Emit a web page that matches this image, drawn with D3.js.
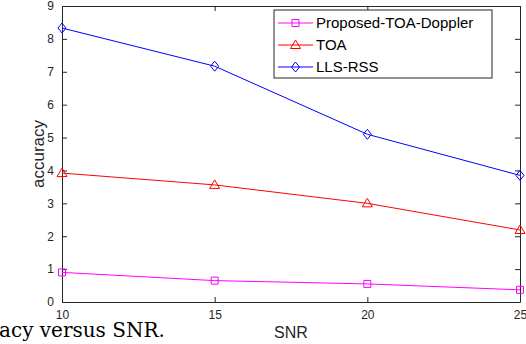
<!DOCTYPE html>
<html>
<head>
<meta charset="utf-8">
<script src="https://cdn.jsdelivr.net/npm/d3@7"></script>
<style>
  body { margin: 0; background: #fff; }
  svg { display: block; }
  .axis text { font-family: "Liberation Sans", Arial, sans-serif; font-size: 12px; fill: #262626; }
  .axis path, .axis line { stroke: #262626; }
</style>
</head>
<body>
<svg width="526" height="344"></svg>
<script>
// data
var snr = [10, 15, 20, 25];
var proposed = [0.9, 0.65, 0.55, 0.37];
var toa = [3.92, 3.56, 3.0, 2.19];
var llsRss = [8.33, 7.17, 5.1, 3.85];
var xTicks = [10, 15, 20, 25];
var yTicks = [0, 1, 2, 3, 4, 5, 6, 7, 8, 9];

var series = [
  {name: "Proposed-TOA-Doppler", values: proposed, color: "#ff00ff", marker: "square"},
  {name: "TOA", values: toa, color: "#ff0000", marker: "triangle"},
  {name: "LLS-RSS", values: llsRss, color: "#0000ff", marker: "diamond"}
];

var svg = d3.select("svg");
var margin = {top: 6, right: 6, bottom: 42, left: 62};
var width = 526 - margin.left - margin.right;
var height = 344 - margin.top - margin.bottom;

var x = d3.scaleLinear().domain([10, 25]).range([0, width]);
var y = d3.scaleLinear().domain([0, 9]).range([height, 0]);

var graph = svg.append("g")
  .attr("transform", "translate(" + margin.left + "," + margin.top + ")");

// box + ticks on all sides (matlab style, ticks inside)
graph.append("g").attr("class", "axis")
  .attr("transform", "translate(0," + height + ")")
  .call(d3.axisBottom(x).tickValues(xTicks).tickSizeInner(-5).tickSizeOuter(0).tickPadding(8));
graph.append("g").attr("class", "axis")
  .call(d3.axisTop(x).tickValues(xTicks).tickSizeInner(-5).tickSizeOuter(0).tickFormat(""));
graph.append("g").attr("class", "axis")
  .call(d3.axisLeft(y).tickValues(yTicks).tickSizeInner(-5).tickSizeOuter(0).tickPadding(8));
graph.append("g").attr("class", "axis")
  .attr("transform", "translate(" + width + ",0)")
  .call(d3.axisRight(y).tickValues(yTicks).tickSizeInner(-5).tickSizeOuter(0).tickFormat(""));

function markerPath(type) {
  if (type === "square") return "M-3.5,-3.5H3.5V3.5H-3.5Z";
  if (type === "triangle") return "M0,-5L5,3.5H-5Z";
  return "M0,-5L4,0L0,5L-4,0Z";
}

var line = d3.line()
  .x(function(d, i) { return x(snr[i]); })
  .y(function(d) { return y(d); });

series.forEach(function(s) {
  graph.append("path")
    .attr("d", line(s.values))
    .attr("fill", "none")
    .attr("stroke", s.color)
    .attr("stroke-width", 1);

  graph.selectAll(".m-" + s.marker)
    .data(s.values)
    .enter().append("path")
    .attr("class", "m-" + s.marker)
    .attr("transform", function(d, i) { return "translate(" + x(snr[i]) + "," + y(d) + ")"; })
    .attr("d", markerPath(s.marker))
    .attr("fill", "none")
    .attr("stroke", s.color)
    .attr("stroke-width", 1);
});

// axis labels
svg.append("text")
  .attr("x", margin.left + width / 2)
  .attr("y", 338)
  .attr("text-anchor", "middle")
  .style("font-family", "Liberation Sans, Arial, sans-serif")
  .style("font-size", "16px")
  .style("fill", "#262626")
  .text("SNR");

svg.append("text")
  .attr("transform", "translate(44," + (margin.top + height / 2) + ") rotate(-90)")
  .attr("text-anchor", "middle")
  .style("font-family", "Liberation Sans, Arial, sans-serif")
  .style("font-size", "17px")
  .style("fill", "#262626")
  .text("accuracy");

// legend
var legend = svg.append("g").attr("transform", "translate(274,10)");
legend.append("rect")
  .attr("width", 218).attr("height", 68)
  .attr("fill", "#fff").attr("stroke", "#262626").attr("stroke-width", 1);

series.forEach(function(s, i) {
  var row = legend.append("g").attr("transform", "translate(0," + (13 + i * 22) + ")");
  row.append("line")
    .attr("x1", 4).attr("x2", 39)
    .attr("stroke", s.color).attr("stroke-width", 1);
  row.append("path")
    .attr("transform", "translate(21.5,0)")
    .attr("d", markerPath(s.marker))
    .attr("fill", "none").attr("stroke", s.color);
  row.append("text")
    .attr("x", 42).attr("dy", "0.35em")
    .style("font-family", "Liberation Sans, Arial, sans-serif")
    .style("font-size", "15px")
    .style("fill", "#000")
    .text(s.name);
});

// caption fragment cut off at the bottom-left of the figure
svg.append("text")
  .attr("x", -1)
  .attr("y", 337)
  .style("font-family", "DejaVu Serif, serif")
  .style("font-size", "20px")
  .style("fill", "#000")
  .text("acy versus SNR.");
</script>
</body>
</html>
